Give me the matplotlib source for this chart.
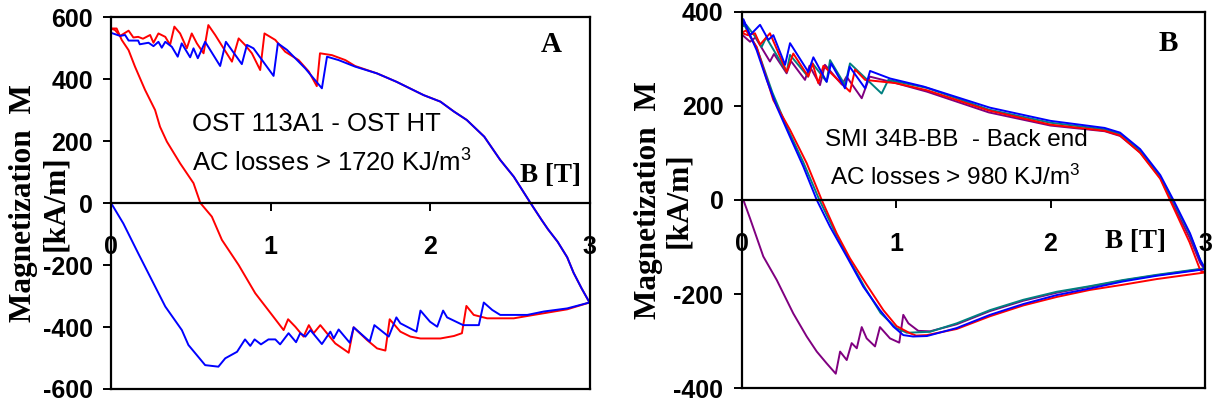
import numpy as np
import matplotlib
matplotlib.use("Agg")
import matplotlib.pyplot as plt

plt.rcParams["mathtext.default"] = "regular"
plt.rcParams["axes.unicode_minus"] = False

SANS = "Liberation Sans"
SERIF = "Liberation Serif"

# ---------------- panel A : OST 113A1 - OST HT ----------------
a_red_low_B = [0, 0.035, 0.067, 0.11, 0.15, 0.213, 0.276, 0.307, 0.35, 0.433, 0.517, 0.56, 0.632,
               0.695, 0.8, 0.904, 1.009, 1.082, 1.11, 1.155, 1.207, 1.24, 1.27, 1.312, 1.406, 1.49,
               1.521, 1.605, 1.668, 1.72, 1.747, 1.814, 1.877, 1.94, 2.065, 2.15, 2.2, 2.228, 2.274,
               2.358, 2.525, 2.65, 2.86, 3.0]
a_red_low_M = [563, 563, 526, 493, 440, 365, 300, 246, 198, 128, 64, 0, -44,
               -119, -200, -291, -361, -410, -375, -399, -431, -394, -420, -394, -453, -483,
               -401, -442, -469, -476, -375, -415, -431, -437, -437, -429, -420, -332, -361,
               -372, -372, -361, -343, -321]

a_red_up_B = [0, 0.025, 0.057, 0.11, 0.14, 0.17, 0.2, 0.245, 0.266, 0.297, 0.34, 0.37, 0.397, 0.433,
              0.475, 0.506, 0.538, 0.58, 0.61, 0.653, 0.758, 0.8, 0.84, 0.883, 0.935, 0.962, 1.03,
              1.092, 1.176, 1.24, 1.29, 1.31, 1.385, 1.469, 1.53]
a_red_up_M = [563, 558, 539, 556, 534, 536, 530, 542, 517, 547, 536, 510, 569, 547,
              499, 547, 515, 483, 574, 542, 456, 531, 510, 483, 429, 547, 526,
              488, 461, 424, 377, 483, 477, 461, 442]

a_blue_up_B = [0, 0.057, 0.088, 0.11, 0.17, 0.18, 0.235, 0.266, 0.297, 0.318, 0.34, 0.381, 0.418,
               0.443, 0.496, 0.517, 0.544, 0.59, 0.684, 0.72, 0.82, 0.852, 0.893, 1.019, 1.046,
               1.103, 1.155, 1.218, 1.322, 1.354, 1.427, 1.53]
a_blue_up_M = [549, 539, 542, 524, 524, 512, 517, 506, 520, 501, 520, 504, 472,
               515, 470, 499, 467, 520, 442, 520, 448, 510, 499, 410, 515,
               494, 467, 434, 370, 472, 461, 440]

# common part of the descending-field branch (both samples)
a_tail_B = [1.668, 1.79, 1.96, 2.065, 2.15, 2.23, 2.34, 2.44, 2.525, 2.63, 2.7, 2.74, 2.8, 2.86,
            2.9, 2.95, 3.0]
a_tail_M = [418, 391, 348, 327, 295, 268, 214, 139, 85, 0, -55, -85, -125, -175,
            -225, -275, -321]

a_blue_low_B = [0, 0.077, 0.17, 0.255, 0.34, 0.444, 0.485, 0.59, 0.673, 0.716, 0.79, 0.84, 0.873,
                0.9, 0.94, 0.987, 1.03, 1.06, 1.113, 1.16, 1.186, 1.218, 1.25, 1.322, 1.375, 1.396,
                1.427, 1.497, 1.521, 1.622, 1.651, 1.741, 1.789, 1.814, 1.915, 1.94, 2.0, 2.045,
                2.082, 2.107, 2.208, 2.306, 2.337, 2.39, 2.44, 2.61, 2.714, 2.86, 3.0]
a_blue_low_M = [0, -66, -162, -248, -334, -410, -458, -523, -528, -501, -480, -440, -461,
                -440, -456, -440, -440, -456, -420, -449, -420, -431, -410, -455, -415, -437,
                -408, -451, -401, -447, -394, -431, -369, -388, -415, -347, -383, -399,
                -347, -369, -394, -394, -321, -345, -361, -361, -350, -340, -321]

# ---------------- panel B : SMI 34B-BB - Back end ----------------
b_blue_low_B = [0, 0.012, 0.098, 0.163, 0.228, 0.314, 0.4, 0.487, 0.573, 0.681, 0.788, 0.896,
                0.983, 1.047, 1.11, 1.2, 1.393, 1.608, 1.824, 2.04, 2.256, 2.47, 2.687, 3.0]
b_blue_low_M = [362, 382, 318, 255, 198, 134, 71, 0, -57, -120, -184, -234,
                -269, -287, -290, -289, -272, -244, -221, -202, -188, -173, -161, -147]

b_red_low_B = [0, 0.03, 0.098, 0.206, 0.314, 0.422, 0.519, 0.616, 0.702, 0.81, 0.918, 1.004,
               1.09, 1.13, 1.2, 1.393, 1.608, 1.824, 2.04, 2.256, 2.47, 2.687, 3.0]
b_red_low_M = [355, 360, 325, 212, 149, 78, 0, -71, -124, -180, -234, -268,
               -283, -288, -287, -274, -247, -224, -206, -191, -180, -168, -154]

b_teal_low_B = [0, 0.012, 0.1, 0.2, 0.3, 0.4, 0.5, 0.6, 0.7, 0.8, 0.9, 1.0, 1.07, 1.22,
                1.393, 1.608, 1.824, 2.04, 2.256, 2.47, 2.687, 3.0]
b_teal_low_M = [365, 375, 322, 228, 150, 80, 3, -65, -128, -187, -240, -272, -282, -280,
                -262, -234, -212, -195, -183, -170, -159, -145]

b_purple_low_B = [0, 0.012, 0.055, 0.141, 0.228, 0.335, 0.422, 0.487, 0.551, 0.61, 0.638, 0.681,
                  0.713, 0.746, 0.778, 0.81, 0.864, 0.896, 0.961, 1.021, 1.047, 1.08, 1.144,
                  1.22, 1.393, 1.608, 1.824, 2.04, 2.256, 2.47, 2.687, 3.0]
b_purple_low_M = [0, 0, -39, -120, -170, -241, -290, -322, -347, -369, -322, -340,
                  -304, -315, -270, -294, -311, -270, -294, -303, -244, -262, -278,
                  -279, -264, -236, -214, -197, -184, -171, -160, -146]

b_blue_up_B = [0, 0.012, 0.055, 0.12, 0.174, 0.206, 0.282, 0.314, 0.432, 0.465, 0.551, 0.58,
               0.67, 0.70, 0.80, 0.832, 0.961, 1.177, 1.608, 2.0, 2.35, 2.45, 2.58, 2.71,
               2.795, 2.903, 2.968, 3.0]
b_blue_up_M = [362, 384, 350, 372, 340, 350, 287, 333, 272, 303, 251, 290,
               237, 283, 237, 274, 258, 241, 196, 168, 153, 143, 108, 53,
               0, -71, -127, -147]

b_teal_up_B = [0, 0.03, 0.098, 0.13, 0.16, 0.292, 0.314, 0.43, 0.46, 0.551, 0.573, 0.67, 0.702,
               0.907, 0.95, 1.2, 1.6, 2.0, 2.35, 2.45, 2.58, 2.71, 2.79, 2.9, 2.97, 3.0]
b_teal_up_M = [368, 372, 343, 325, 345, 272, 308, 262, 290, 251, 297, 244, 290,
               226, 255, 238, 192, 164, 150, 140, 104, 50, 0, -72, -128, -145]

b_red_up_B = [0, 0.04, 0.087, 0.12, 0.184, 0.292, 0.335, 0.432, 0.46, 0.497, 0.53, 0.702, 0.735,
              0.80, 1.0, 1.2, 1.6, 2.0, 2.35, 2.45, 2.58, 2.71, 2.773, 2.9, 2.97, 3.0]
b_red_up_M = [355, 350, 354, 330, 354, 272, 311, 262, 290, 248, 285, 230, 277,
              255, 248, 233, 190, 160, 147, 137, 100, 45, 0, -90, -150, -154]

b_purple_up_B = [0, 0.055, 0.09, 0.184, 0.21, 0.292, 0.32, 0.411, 0.44, 0.508, 0.54, 0.65, 0.68,
                 0.778, 0.83, 1.0, 1.2, 1.6, 2.0, 2.35, 2.45, 2.58, 2.71, 2.78, 2.9, 2.97, 3.0]
b_purple_up_M = [352, 336, 345, 294, 310, 269, 295, 255, 285, 244, 287, 245, 262,
                 216, 262, 248, 230, 186, 158, 146, 136, 101, 47, 0, -80, -135, -148]

RED, BLUE, TEAL, PURPLE = "#FF0000", "#0000FF", "#008080", "#800080"

fig = plt.figure(figsize=(12.15, 4.09), dpi=100)
axA = fig.add_axes([0.0914, 0.0489, 0.3938, 0.9095])
axB = fig.add_axes([0.6103, 0.0506, 0.3815, 0.921])


def style_axes(ax, ylim, yticks, lab_x):
    ax.set_xlim(0, 3)
    ax.set_ylim(*ylim)
    ax.set_yticks(yticks)
    ax.set_xticks([0, 1, 2, 3])
    ax.spines["bottom"].set_position(("data", 0))
    for s in ax.spines.values():
        s.set_linewidth(1.6)
    # lower border of the plot area
    ax.axhline(ylim[0], color="black", lw=1.6, clip_on=False, zorder=5)
    ax.tick_params(axis="both", direction="out", width=1.4, length=6)
    ax.tick_params(axis="x", pad=17)
    ax.tick_params(axis="y", pad=7)
    for lab in ax.get_xticklabels() + ax.get_yticklabels():
        lab.set_fontfamily(SANS)
        lab.set_fontweight("bold")
        lab.set_fontsize(18)
    # two-line axis title, one text per line
    for x, s in zip(lab_x, ["Magnetization  M", "[kA/m]"]):
        ax.text(x, 0.5, s, transform=ax.transAxes, rotation=90, ha="center", va="center",
                fontfamily=SERIF, fontweight="bold", fontsize=22.5)


lw = 1.4
axA.plot(a_red_low_B, a_red_low_M, color=RED, lw=lw)
axA.plot(a_red_up_B + a_tail_B, a_red_up_M + a_tail_M, color=RED, lw=lw)
axA.plot(a_blue_low_B, a_blue_low_M, color=BLUE, lw=lw)
axA.plot(a_blue_up_B + a_tail_B, a_blue_up_M + a_tail_M, color=BLUE, lw=lw)
style_axes(axA, (-600, 600), [-600, -400, -200, 0, 200, 400, 600], (-0.182, -0.116))
axA.text(0.17, 0.712, "OST 113A1 - OST HT", transform=axA.transAxes,
         fontfamily=SANS, fontsize=18.5, va="center")
axA.text(0.17, 0.607, "AC losses > 1720 KJ/m$^3$", transform=axA.transAxes,
         fontfamily=SANS, fontsize=18.5, va="center")
axA.text(0.92, 0.925, "A", transform=axA.transAxes, fontfamily=SERIF,
         fontweight="bold", fontsize=21, ha="center", va="center")
axA.text(0.855, 0.575, "B [T]", transform=axA.transAxes, fontfamily=SERIF,
         fontweight="bold", fontsize=19.5, ha="left", va="center")

axB.plot(b_purple_low_B, b_purple_low_M, color=PURPLE, lw=lw)
axB.plot(b_purple_up_B, b_purple_up_M, color=PURPLE, lw=lw)
axB.plot(b_teal_low_B, b_teal_low_M, color=TEAL, lw=lw)
axB.plot(b_teal_up_B, b_teal_up_M, color=TEAL, lw=lw)
axB.plot(b_red_low_B, b_red_low_M, color=RED, lw=lw)
axB.plot(b_red_up_B, b_red_up_M, color=RED, lw=lw)
axB.plot(b_blue_low_B, b_blue_low_M, color=BLUE, lw=lw)
axB.plot(b_blue_up_B, b_blue_up_M, color=BLUE, lw=lw)
style_axes(axB, (-400, 400), [-400, -200, 0, 200, 400], (-0.2, -0.136))
axB.text(0.18, 0.66, "SMI 34B-BB  - Back end", transform=axB.transAxes,
         fontfamily=SANS, fontsize=17.5, va="center")
axB.text(0.19, 0.56, "AC losses > 980 KJ/m$^3$", transform=axB.transAxes,
         fontfamily=SANS, fontsize=17.5, va="center")
axB.text(0.92, 0.915, "B", transform=axB.transAxes, fontfamily=SERIF,
         fontweight="bold", fontsize=21, ha="center", va="center")
axB.text(0.785, 0.39, "B [T]", transform=axB.transAxes, fontfamily=SERIF,
         fontweight="bold", fontsize=19.5, ha="left", va="center")

fig.savefig("out.png", dpi=100)
